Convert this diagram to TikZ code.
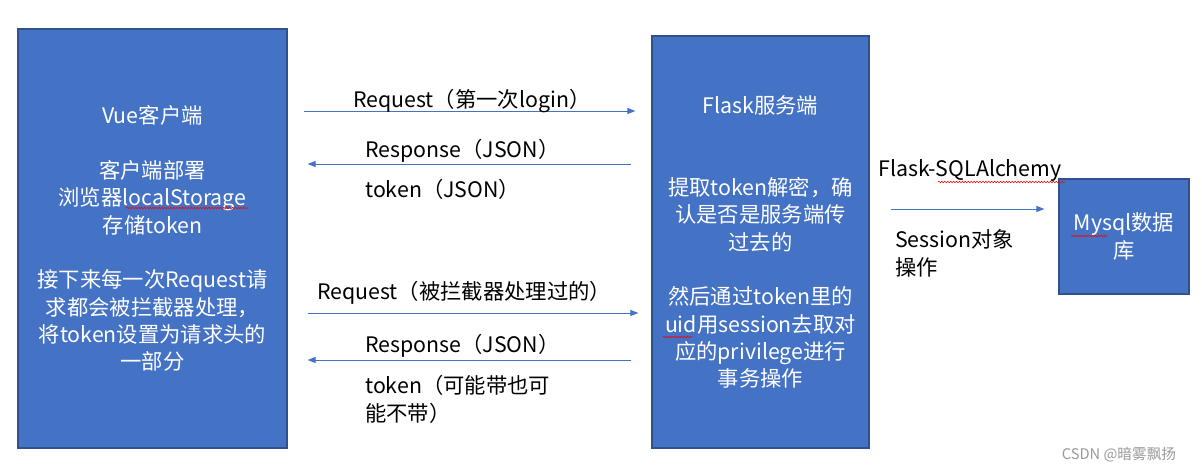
\documentclass[tikz,border=0pt]{standalone}
\usepackage{fontspec}
\setmainfont{Noto Sans CJK SC}
\usetikzlibrary{arrows.meta,decorations.pathmorphing}
\definecolor{boxfill}{HTML}{4472C4}
\definecolor{boxline}{HTML}{2F528F}
\definecolor{wmark}{HTML}{9A9A9A}
\begin{document}
\begin{tikzpicture}[x=0.75pt,y=-0.75pt,
  box/.style={draw=boxline, fill=boxfill, line width=0.9pt, text=white, align=center, inner sep=0pt, font=\fontsize{16}{20.5}\selectfont},
  lbl/.style={anchor=west, inner sep=0pt, align=left, font=\fontsize{16}{20.5}\selectfont},
  arr/.style={draw=boxfill, line width=0.75pt, -{Triangle[length=6pt,width=4.5pt]}},
  squig/.style={draw=red, line width=0.4pt, decorate, decoration={snake, amplitude=0.6pt, segment length=2.2pt}}]
\useasboundingbox (0,0) rectangle (1202,471);
\fill[white] (0,0) rectangle (1202,471);

\node[box, minimum width=201.75pt, minimum height=314.25pt] (vue) at (152.5,238.5)
  {Vue客户端\\[20.5pt]客户端部署\\浏览器localStorage\\存储token\\[20.5pt]接下来每一次Request请\\求都会被拦截器处理，\\将token设置为请求头的\\一部分};
\node[box, minimum width=162.75pt, minimum height=309pt] (flask) at (760.5,242)
  {Flask服务端\\[41pt]提取token解密，确\\认是否是服务端传\\过去的\\[20.5pt]然后通过token里的\\uid用session去取对\\应的privilege进行\\事务操作};
\node[box, minimum width=97.5pt, minimum height=86.25pt] (db) at (1124,236.5)
  {Mysql数据\\库};

\draw[arr, shorten <=12pt, shorten >=12pt] (vue.east |- 0,111) -- (flask.west |- 0,111);
\draw[arr, shorten <=15pt, shorten >=15pt] (flask.west |- 0,164) -- (vue.east |- 0,164);
\draw[arr, shorten <=15pt, shorten >=9.75pt] (vue.east |- 0,313) -- (flask.west |- 0,313);
\draw[arr, shorten <=15pt, shorten >=15pt] (flask.west |- 0,360) -- (vue.east |- 0,360);
\draw[arr, shorten <=15.75pt, shorten >=10.5pt] (flask.east |- 0,209) -- (db.west |- 0,209);

\node[lbl] (l1) at (353,101) {Request（第一次login）};
\node[lbl] (l2) at (365,151) {Response（JSON）};
\node[lbl] (l3) at (365,189) {token（JSON）};
\node[lbl] (l4) at (317,293) {Request（被拦截器处理过的）};
\node[lbl] (l5) at (365,346) {Response（JSON）};
\node[lbl] (l6) at (365,399.5) {token（可能带也可\\能不带）};
\node[lbl] (l7) at (878,171) {Flask-SQLAlchemy};
\node[lbl] (l8) at (895,253.5) {Session对象\\操作};

\draw[squig] (126,208) -- (248,208);
\draw[squig] (663,337) -- (692,337);
\draw[squig] (938,182) -- (1065,182);
\draw[squig] (1071,236) -- (1107,236);

\node[text=wmark, font=\fontsize{11}{13}\selectfont, inner sep=0pt] (wm) at (1119,455) {CSDN @暗雾飘扬};
\end{tikzpicture}
\end{document}
